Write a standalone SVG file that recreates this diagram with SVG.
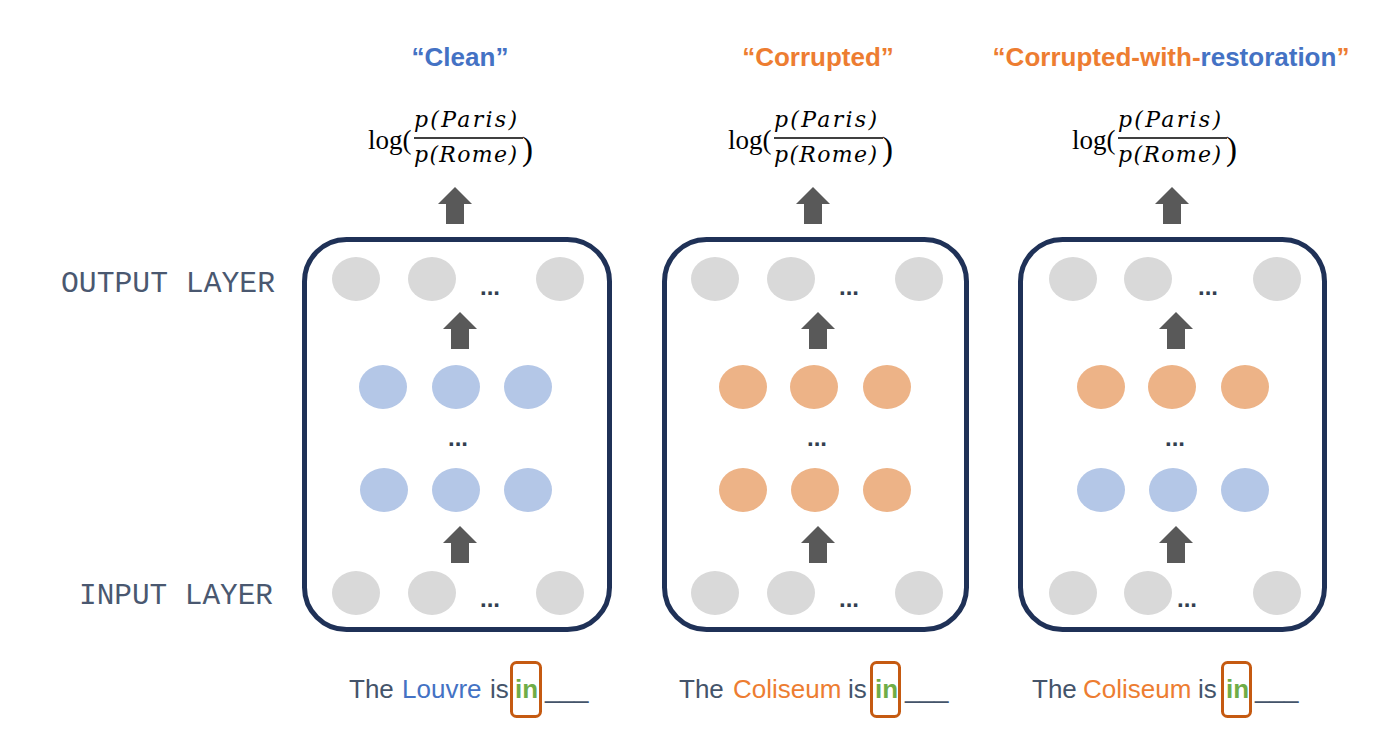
<svg xmlns="http://www.w3.org/2000/svg" xmlns:xlink="http://www.w3.org/1999/xlink" width="1380" height="746" viewBox="0 0 1380 746">
<style>
.title{font-family:"Liberation Sans",Arial,sans-serif;font-weight:bold;font-size:26px;text-anchor:middle}
.org{fill:#ED7D31}.blu{fill:#4472C4}.drk{fill:#44546A}.grn{fill:#70AD47}
.lbl{font-family:"Liberation Mono","Courier New",monospace;font-size:29px;fill:#4A5870}
.mth{font-family:"Liberation Serif","Times New Roman",serif;fill:#000}
.it{font-family:"DejaVu Serif","Liberation Serif",serif;font-style:italic;font-size:22px}
.sent{font-family:"Liberation Sans",Arial,sans-serif;font-size:26px}
.dots{font-family:"Liberation Sans",Arial,sans-serif;font-weight:bold;font-size:24px;fill:#333F50;text-anchor:middle}
.frame{fill:#fff;stroke:#1F3157;stroke-width:5}
.gray{fill:#D9D9D9}.bc{fill:#B4C7E7}.oc{fill:#EDB387}
.inbox{fill:none;stroke:#C55A11;stroke-width:3}
.bar{stroke:#000;stroke-width:1.5}
</style>
<defs>
<path id="arr" d="M0,0 L17,17 L9,17 L9,37 L-9,37 L-9,17 L-17,17 Z" fill="#595959"/>
<g id="formula">
<text class="mth" x="368" y="149" font-size="27">log(</text>
<text class="mth it" x="414" y="127" textLength="103" lengthAdjust="spacing">p(Paris)</text>
<line class="bar" x1="414" y1="138" x2="523" y2="138"/>
<text class="mth it" x="414" y="162" textLength="103" lengthAdjust="spacing">p(Rome)</text>
<text class="mth" x="522" y="160" font-size="33">)</text>
</g>
</defs>
<rect width="1380" height="746" fill="#fff"/>

<g id="labels">
<text class="lbl" x="61" y="292" textLength="214" lengthAdjust="spacingAndGlyphs">OUTPUT LAYER</text>
<text class="lbl" x="79" y="604" textLength="194" lengthAdjust="spacingAndGlyphs">INPUT LAYER</text>
</g>

<g id="titles">
<text class="title blu" x="460" y="66">“Clean”</text>
<text class="title org" x="818" y="66">“Corrupted”</text>
<text class="title org" x="1171" y="66">“Corrupted-with-<tspan class="blu">restoration</tspan>”</text>
</g>

<g id="formulas">
<use xlink:href="#formula"/>
<use xlink:href="#formula" x="360"/>
<use xlink:href="#formula" x="704"/>
</g>

<g id="panel-clean">
<rect class="frame" x="304.5" y="239.5" width="305" height="390" rx="42"/>
<ellipse class="gray" cx="356" cy="279" rx="24" ry="22"/>
<ellipse class="gray" cx="432" cy="279" rx="24" ry="22"/>
<ellipse class="gray" cx="560" cy="279" rx="24" ry="22"/>
<text class="dots" x="490" y="295">...</text>
<ellipse class="bc" cx="383" cy="387" rx="24" ry="22"/>
<ellipse class="bc" cx="456" cy="387" rx="24" ry="22"/>
<ellipse class="bc" cx="528" cy="387" rx="24" ry="22"/>
<text class="dots" x="458" y="446">...</text>
<ellipse class="bc" cx="384" cy="490" rx="24" ry="22"/>
<ellipse class="bc" cx="456" cy="490" rx="24" ry="22"/>
<ellipse class="bc" cx="528" cy="490" rx="24" ry="22"/>
<ellipse class="gray" cx="356" cy="593" rx="24" ry="22"/>
<ellipse class="gray" cx="432" cy="593" rx="24" ry="22"/>
<ellipse class="gray" cx="560" cy="593" rx="24" ry="22"/>
<text class="dots" x="490" y="607">...</text>
</g>

<g id="panel-corrupted">
<rect class="frame" x="664.5" y="239.5" width="302" height="390" rx="42"/>
<ellipse class="gray" cx="715" cy="279" rx="24" ry="22"/>
<ellipse class="gray" cx="791" cy="279" rx="24" ry="22"/>
<ellipse class="gray" cx="919" cy="279" rx="24" ry="22"/>
<text class="dots" x="849" y="295">...</text>
<ellipse class="oc" cx="743" cy="387" rx="24" ry="22"/>
<ellipse class="oc" cx="814" cy="387" rx="24" ry="22"/>
<ellipse class="oc" cx="887" cy="387" rx="24" ry="22"/>
<text class="dots" x="817" y="446">...</text>
<ellipse class="oc" cx="743" cy="490" rx="24" ry="22"/>
<ellipse class="oc" cx="815" cy="490" rx="24" ry="22"/>
<ellipse class="oc" cx="887" cy="490" rx="24" ry="22"/>
<ellipse class="gray" cx="715" cy="593" rx="24" ry="22"/>
<ellipse class="gray" cx="791" cy="593" rx="24" ry="22"/>
<ellipse class="gray" cx="919" cy="593" rx="24" ry="22"/>
<text class="dots" x="849" y="607">...</text>
</g>

<g id="panel-restoration">
<rect class="frame" x="1020.5" y="239.5" width="304" height="390" rx="42"/>
<ellipse class="gray" cx="1073" cy="279" rx="24" ry="22"/>
<ellipse class="gray" cx="1148" cy="279" rx="24" ry="22"/>
<ellipse class="gray" cx="1277" cy="279" rx="24" ry="22"/>
<text class="dots" x="1208" y="295">...</text>
<ellipse class="oc" cx="1101" cy="387" rx="24" ry="22"/>
<ellipse class="oc" cx="1172" cy="387" rx="24" ry="22"/>
<ellipse class="oc" cx="1245" cy="387" rx="24" ry="22"/>
<text class="dots" x="1175" y="446">...</text>
<ellipse class="bc" cx="1101" cy="490" rx="24" ry="22"/>
<ellipse class="bc" cx="1173" cy="490" rx="24" ry="22"/>
<ellipse class="bc" cx="1245" cy="490" rx="24" ry="22"/>
<ellipse class="gray" cx="1073" cy="593" rx="24" ry="22"/>
<ellipse class="gray" cx="1148" cy="593" rx="24" ry="22"/>
<ellipse class="gray" cx="1277" cy="593" rx="24" ry="22"/>
<text class="dots" x="1187" y="607">...</text>
</g>

<g id="connectors">
<use xlink:href="#arr" x="455" y="187"/>
<use xlink:href="#arr" x="813" y="187"/>
<use xlink:href="#arr" x="1172" y="187"/>
<use xlink:href="#arr" x="460" y="312"/>
<use xlink:href="#arr" x="818" y="312"/>
<use xlink:href="#arr" x="1176" y="312"/>
<use xlink:href="#arr" x="460" y="526"/>
<use xlink:href="#arr" x="818" y="526"/>
<use xlink:href="#arr" x="1176" y="526"/>
</g>

<g id="sentence-clean">
<text class="sent drk" x="349" y="698">The</text>
<text class="sent blu" x="402" y="698">Louvre</text>
<text class="sent drk" x="490" y="698">is</text>
<rect class="inbox" x="511.5" y="662.5" width="29" height="54" rx="5"/>
<text class="sent grn" x="515" y="698" font-weight="bold">in</text>
<text class="sent drk" x="545" y="698">___</text>
</g>

<g id="sentence-corrupted">
<text class="sent drk" x="679" y="698">The</text>
<text class="sent org" x="733" y="698">Coliseum</text>
<text class="sent drk" x="848" y="698">is</text>
<rect class="inbox" x="871.5" y="662.5" width="28" height="54" rx="5"/>
<text class="sent grn" x="875" y="698" font-weight="bold">in</text>
<text class="sent drk" x="905" y="698">___</text>
</g>

<g id="sentence-restoration">
<text class="sent drk" x="1032" y="698">The</text>
<text class="sent org" x="1083" y="698">Coliseum</text>
<text class="sent drk" x="1198" y="698">is</text>
<rect class="inbox" x="1222.5" y="662.5" width="28" height="54" rx="5"/>
<text class="sent grn" x="1226" y="698" font-weight="bold">in</text>
<text class="sent drk" x="1255" y="698">___</text>
</g>
</svg>
